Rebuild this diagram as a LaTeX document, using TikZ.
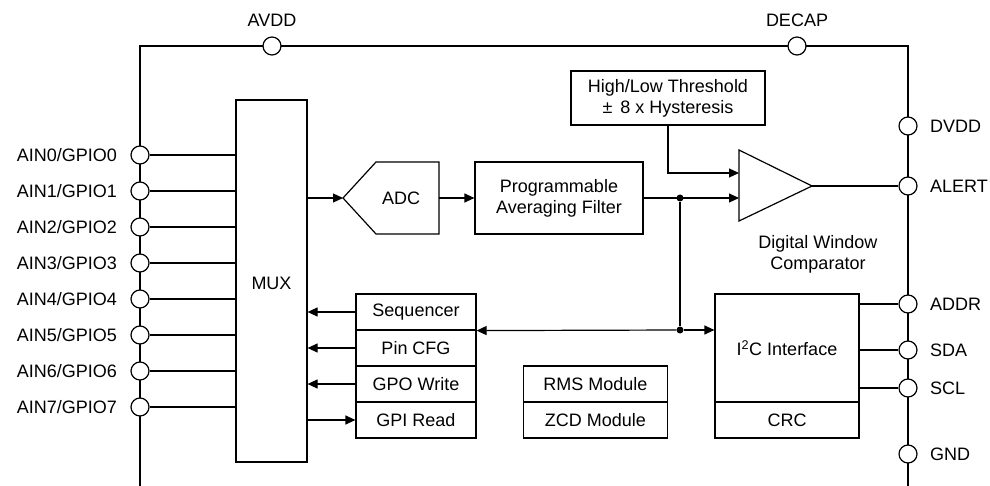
\documentclass[tikz,border=0pt]{standalone}
\usepackage{fontspec}
\setmainfont{Liberation Sans}
\usetikzlibrary{arrows.meta}
\begin{document}
\begin{tikzpicture}[x=1pt,y=-1pt,
  every node/.style={font=\fontsize{18}{21}\selectfont, inner sep=0pt},
  thin line/.style={line width=1.2pt},
  border/.style={line width=2.4pt},
  box/.style={draw, line width=1.2pt, fill=white, align=center},
  pin/.style={draw, circle, line width=1.2pt, fill=white, minimum size=18pt, inner sep=0pt},
  arr/.style={thin line, -{Triangle[length=10pt,width=9pt]}},
  rarr/.style={thin line, {Triangle[length=10pt,width=9pt]}-},
  dot/.style={circle, fill=black, minimum size=7pt, inner sep=0pt}
]
\useasboundingbox (0,0) rectangle (990,486);
% border
\draw[border] (140,486) -- (140,46) -- (908,46) -- (908,486);

% boxes
\node[box, minimum width=71pt, minimum height=362pt] (mux) at (271.5,281) {};
\node (muxl) at (271.5,283) {MUX};
\draw[thin line, fill=white] (343,198) -- (376,162) -- (439,162) -- (439,234) -- (376,234) -- cycle;
\coordinate (adcL) at (343,198);
\coordinate (adcR) at (439,198);
\node (adc) at (401,198) {ADC};
\node[box, minimum width=168pt, minimum height=72pt] (filt) at (559,198) {Programmable\\Averaging Filter};
\node[box, minimum width=194pt, minimum height=54pt] (thr) at (668,98) {High/Low Threshold\\ ±\, 8 x Hysteresis};
\draw[thin line, fill=white] (739,150) -- (812,186) -- (739,221) -- cycle;
\coordinate (cin1) at (739,173);
\coordinate (cin2) at (739,198);
\coordinate (cout) at (812,186);
\node[align=center] (dwc) at (818,254) {Digital Window\\Comparator};

\node[box, minimum width=120pt, minimum height=36pt] (seq) at (416,312) {Sequencer};
\node[box, minimum width=120pt, minimum height=36pt] (pcfg) at (416,348) {Pin CFG};
\node[box, minimum width=120pt, minimum height=36pt] (gpo) at (416,384) {GPO Write};
\node[box, minimum width=120pt, minimum height=36pt] (gpi) at (416,420) {GPI Read};
\node[box, minimum width=144pt, minimum height=36pt] (rms) at (595.5,384) {RMS Module};
\node[box, minimum width=144pt, minimum height=36pt] (zcd) at (595.5,420) {ZCD Module};
\node[box, minimum width=144pt, minimum height=108pt] (i2c) at (787,348) {I\textsuperscript{2}C Interface};
\node[box, minimum width=144pt, minimum height=36pt] (crc) at (787,420) {CRC};

% top pins
\node[pin] (avdd) at (272,46) {};
\node (avddl) at (272,20) {AVDD};
\node[pin] (decap) at (797,46) {};
\node (decapl) at (797,20) {DECAP};

% right pins
\foreach \n/\t/\y in {dvdd/DVDD/126, alert/ALERT/186, addr/ADDR/304, sda/SDA/350, scl/SCL/388, gnd/GND/454}{
  \node[pin] (\n) at (908,\y) {};
  \node[anchor=west] (\n l) at (930,\y) {\t};
}

% left pins
\foreach \i in {0,...,7}{
  \pgfmathsetmacro{\yy}{155+36*\i}
  \node[pin] (p\i) at (140,\yy) {};
  \node[anchor=east] (p\i l) at (117,\yy) {AIN\i/GPIO\i};
  \draw[thin line] (p\i.east) -- (p\i.east -| mux.west);
}

% signal path
\draw[arr] (mux.east |- adcL) -- (adcL);
\draw[arr] (adcR) -- (filt.west);
\node[dot] (d1) at (680,198) {};
\node[dot] (d2) at (680,330) {};
\draw[arr] (filt.east) -- (cin2);
\draw[arr] (thr.south) |- (cin1);
\draw[thin line] (cout) -- (alert.west);
\draw[thin line] (d1) -- (d2);
\draw[rarr] (seq.south east) -- (d2);
\draw[arr] (d2) -- (d2 -| i2c.west);

% control arrows
\draw[arr] (seq.west) -- (seq.west -| mux.east);
\draw[arr] (pcfg.west) -- (pcfg.west -| mux.east);
\draw[arr] (gpo.west) -- (gpo.west -| mux.east);
\draw[arr] (gpi.west -| mux.east) -- (gpi.west);

% i2c pins
\draw[thin line] (i2c.east |- addr) -- (addr.west);
\draw[thin line] (i2c.east |- sda) -- (sda.west);
\draw[thin line] (i2c.east |- scl) -- (scl.west);
\end{tikzpicture}
\end{document}
